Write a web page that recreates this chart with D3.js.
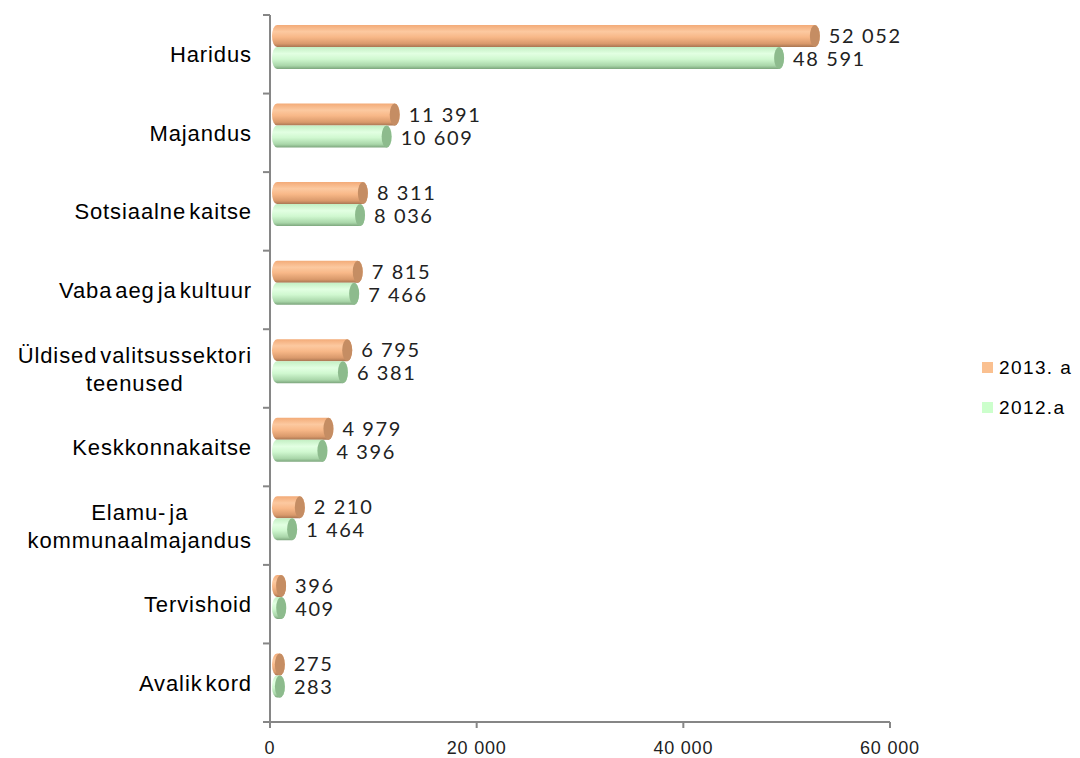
<!DOCTYPE html>
<html>
<head>
<meta charset="utf-8">
<script src="https://cdn.jsdelivr.net/npm/d3@7"></script>
<style>
  body { margin: 0; background: #fff; }
  svg { display: block; }
</style>
</head>
<body>
<div id="chart"></div>
<script>
// chart data
const categories = ['Haridus', 'Majandus', 'Sotsiaalne kaitse', 'Vaba aeg ja kultuur',
  'Üldised valitsussektori teenused', 'Keskkonnakaitse', 'Elamu- ja kommunaalmajandus',
  'Tervishoid', 'Avalik kord'];
const categoryLines = [['Haridus'], ['Majandus'], ['Sotsiaalne kaitse'], ['Vaba aeg ja kultuur'],
  ['Üldised valitsussektori', 'teenused'], ['Keskkonnakaitse'], ['Elamu- ja', 'kommunaalmajandus'],
  ['Tervishoid'], ['Avalik kord']];
const series = ['2013. a', '2012.a'];
const values2013 = [52052, 11391, 8311, 7815, 6795, 4979, 2210, 396, 275];
const values2012 = [48591, 10609, 8036, 7466, 6381, 4396, 1464, 409, 283];
const xTicks = [0, 20000, 40000, 60000];

const width = 1080, height = 758;
const margin = { top: 15, left: 270, right: 190, bottom: 36 };
const depth = 7;

const svg = d3.select('#chart').append('svg')
  .attr('width', width).attr('height', height);

const x = d3.scaleLinear().domain([0, 60000]).range([margin.left, 890]);
const y = d3.scaleBand().domain(categories).range([margin.top, height - margin.bottom]);
const ySub = d3.scaleBand().domain(series).range([10, 54]);

const fmt = v => d3.format(',')(v).replace(/,/g, ' ');

// gradients for the cylinders
const defs = svg.append('defs');
const palettes = [
  { id: 'g2013', stops: ['#f3ab78', '#fcc9a0', '#f8b888', '#d9996b', '#a87552'], cap: '#c58d63' },
  { id: 'g2012', stops: ['#c3efc3', '#e2ffe2', '#d0f8d0', '#a9d6a9', '#7ca57c'], cap: '#8dbb8d' }
];
palettes.forEach(p => {
  const g = defs.append('linearGradient').attr('id', p.id)
    .attr('x1', 0).attr('y1', 0).attr('x2', 0).attr('y2', 1);
  [0, 0.3, 0.55, 0.85, 1].forEach((o, i) =>
    g.append('stop').attr('offset', o).attr('stop-color', p.stops[i]));
});

// axes
svg.append('line')
  .attr('x1', x(0)).attr('x2', x(0))
  .attr('y1', margin.top).attr('y2', height - margin.bottom)
  .attr('stroke', '#868686').attr('stroke-width', 2);
svg.append('line')
  .attr('x1', x(0) - 7).attr('x2', x(60000))
  .attr('y1', height - margin.bottom).attr('y2', height - margin.bottom)
  .attr('stroke', '#868686').attr('stroke-width', 2);

// category ticks
const catTicks = categories.map(c => y(c)).concat([height - margin.bottom]);
svg.selectAll('.ytick').data(catTicks).enter().append('line')
  .attr('x1', x(0) - 7).attr('x2', x(0))
  .attr('y1', d => d).attr('y2', d => d)
  .attr('stroke', '#868686').attr('stroke-width', 2);

svg.selectAll('.xtick').data(xTicks).enter().append('line')
  .attr('x1', d => x(d)).attr('x2', d => x(d))
  .attr('y1', height - margin.bottom).attr('y2', height - margin.bottom + 6)
  .attr('stroke', '#868686').attr('stroke-width', 2);

svg.selectAll('.xlabel').data(xTicks).enter().append('text')
  .attr('x', d => x(d)).attr('y', height - 4)
  .attr('text-anchor', 'middle')
  .attr('font-family', '"Liberation Sans", Arial, sans-serif')
  .attr('font-size', 18).attr('letter-spacing', 0.8).attr('fill', '#222')
  .text(d => fmt(d));

// category labels
const labelRight = 252;
const catLabels = svg.selectAll('.cat').data(categories).enter().append('text')
  .attr('text-anchor', 'middle')
  .attr('font-family', '"Liberation Sans", Arial, sans-serif')
  .attr('font-size', 22).attr('letter-spacing', 0.9).attr('word-spacing', -4)
  .attr('fill', '#000');
catLabels.each(function (d, i) {
  const lines = categoryLines[i];
  const cy = y(d) + y.bandwidth() / 2;
  const t = d3.select(this);
  const spans = lines.map((l, j) => t.append('tspan')
    .attr('y', cy + 8 + (j - (lines.length - 1) / 2) * 28)
    .text(l));
  const maxW = d3.max(spans, s => s.node().getComputedTextLength());
  spans.forEach(s => s.attr('x', labelRight - maxW / 2));
});

// bars
const rows = categories.map((c, i) => ({ cat: c, vals: [values2013[i], values2012[i]] }));
const groups = svg.selectAll('.row').data(rows).enter().append('g')
  .attr('transform', d => `translate(0,${y(d.cat)})`);

series.forEach((s, si) => {
  const p = palettes[si];
  const bh = ySub.bandwidth();
  const rx = 5;
  groups.each(function (d) {
    const g = d3.select(this);
    const top = ySub(s);
    const x0 = x(0) + depth;
    const x1 = x(d.vals[si]) + depth;
    g.append('path')
      .attr('d', `M${x0},${top} L${x1},${top} A${rx},${bh / 2} 0 0 1 ${x1},${top + bh} L${x0},${top + bh} A${rx},${bh / 2} 0 0 1 ${x0},${top} Z`)
      .attr('fill', `url(#${p.id})`);
    g.append('ellipse')
      .attr('cx', x1).attr('cy', top + bh / 2)
      .attr('rx', rx).attr('ry', bh / 2)
      .attr('fill', p.cap);
    g.append('text')
      .attr('x', x1 + rx + 9).attr('y', top + bh / 2 + 7 + si)
      .attr('font-family', 'Lato, "Open Sans", sans-serif')
      .attr('font-size', 20).attr('letter-spacing', 1.6).attr('fill', '#222')
      .text(fmt(d.vals[si]));
  });
});

// legend
const legend = svg.append('g').attr('transform', 'translate(982,362)');
series.forEach((s, i) => {
  legend.append('rect')
    .attr('x', 0).attr('y', i * 40).attr('width', 11).attr('height', 11)
    .attr('fill', i === 0 ? '#fac090' : '#ccffcc');
  legend.append('text')
    .attr('x', 17).attr('y', i * 40 + 12)
    .attr('font-family', '"Liberation Sans", Arial, sans-serif')
    .attr('font-size', 19).attr('letter-spacing', 1.4).attr('fill', '#000')
    .text(s);
});
</script>
</body>
</html>
